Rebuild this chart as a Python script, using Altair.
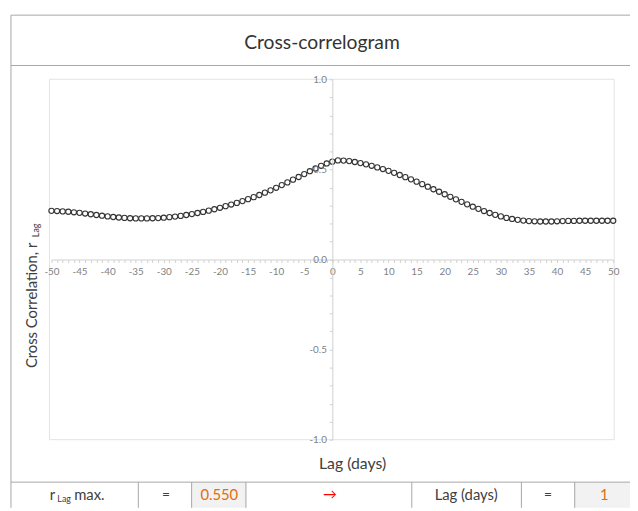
import altair as alt
import pandas as pd

# ---- data ----
lags = list(range(-50, 51))
r_values = [
    0.270, 0.269, 0.267, 0.265, 0.262, 0.259, 0.255, 0.251, 0.247, 0.243,
    0.239, 0.236, 0.233, 0.231, 0.229, 0.228, 0.228, 0.228, 0.229, 0.230,
    0.232, 0.235, 0.238, 0.242, 0.247, 0.252, 0.258, 0.264, 0.271, 0.279,
    0.287, 0.296, 0.305, 0.314, 0.324, 0.335, 0.346, 0.358, 0.371, 0.384,
    0.398, 0.413, 0.428, 0.443, 0.458, 0.474, 0.490, 0.505, 0.520, 0.533,
    0.543, 0.550, 0.549, 0.546, 0.541, 0.535, 0.528, 0.520, 0.511, 0.502,
    0.492, 0.481, 0.469, 0.457, 0.445, 0.432, 0.418, 0.404, 0.390, 0.376,
    0.362, 0.348, 0.334, 0.320, 0.306, 0.293, 0.281, 0.269, 0.258, 0.248,
    0.239, 0.231, 0.225, 0.220, 0.216, 0.213, 0.212, 0.211, 0.211, 0.211,
    0.212, 0.213, 0.214, 0.214, 0.215, 0.215, 0.215, 0.215, 0.215, 0.215,
    0.215,
]
x_ticks = list(range(-50, 51))
y_ticks = [-1.0, -0.9, -0.8, -0.7, -0.6, -0.5, -0.4, -0.3, -0.2, -0.1, 0.0,
           0.1, 0.2, 0.3, 0.4, 0.5, 0.6, 0.7, 0.8, 0.9, 1.0]

title_text = "Cross-correlogram"
x_title = "Lag (days)"
y_title = "Cross Correlation, r"
sub_text = "Lag"
r_max_text = "0.550"
lag_max_text = "1"

df = pd.DataFrame({"lag": lags, "r": r_values})

FONT = "Lato"
W, H = 630, 503
FRAME = "#a6a6a6"
TXT = "#404040"
one = alt.Data(values=[{}])

x_label_expr = ("datum.value % 5 == 0 ? (datum.value < 0 ? '-' + format(abs(datum.value), 'd')"
                " : format(datum.value, 'd')) : ''")
y_label_expr = ("abs(datum.value*2 - round(datum.value*2)) < 0.001 ? "
                "(datum.value < -0.001 ? '-' + format(abs(datum.value), '.1f') "
                ": format(abs(datum.value), '.1f')) : ''")

points = alt.Chart(df).mark_point(
    shape="circle", filled=False, size=28, color="#333333", strokeWidth=1.1, opacity=1
).encode(
    x=alt.X("lag:Q",
            scale=alt.Scale(domain=[-50, 50], range=[44, 613], nice=False, zero=False),
            axis=alt.Axis(title=None, values=x_ticks, offset=-251.5, zindex=1,
                          labelExpr=x_label_expr,
                          labelOverlap=False, labelFlush=False, grid=False,
                          domainColor="#d0d0d0", tickColor="#d0d0d0", tickSize=3,
                          labelColor="#7f7f7f", labelFont=FONT, labelFontSize=10,
                          labelPadding=4)),
    y=alt.Y("r:Q",
            scale=alt.Scale(domain=[-1, 1], range=[434, 69], nice=False, zero=False),
            axis=alt.Axis(title=None, values=y_ticks, offset=-328.5, zindex=1,
                          labelExpr=y_label_expr,
                          labelOverlap=False, labelFlush=False, grid=False,
                          domainColor="#d0d0d0", tickColor="#d0d0d0", tickSize=3,
                          labelColor="#7f7f7f", labelFont=FONT, labelFontSize=10,
                          labelPadding=3)),
)


def rule(x, y, x2=None, y2=None, color=FRAME, width=1.0):
    enc = dict(x=alt.value(x), y=alt.value(y))
    if x2 is not None:
        enc["x2"] = alt.value(x2)
    if y2 is not None:
        enc["y2"] = alt.value(y2)
    return alt.Chart(one).mark_rule(color=color, strokeWidth=width).encode(**enc)


def rect(x, x2, y, y2, fill, stroke=None):
    kw = dict(fill=fill)
    if stroke is not None:
        kw.update(stroke=stroke, strokeWidth=1)
    return alt.Chart(one).mark_rect(**kw).encode(
        x=alt.value(x), x2=alt.value(x2), y=alt.value(y), y2=alt.value(y2))


def text(s, x, y, size=12, color=TXT, align="center", angle=0, baseline="middle"):
    kw = dict(font=FONT, fontSize=size, color=color, align=align, baseline=baseline)
    if angle:
        kw["angle"] = angle
    return alt.Chart(one).mark_text(**kw).encode(
        x=alt.value(x), y=alt.value(y), text=alt.value(s))


layers = [
    rect(42, 614, 69, 434, "transparent", stroke="#e3e3e3"),
    rect(186, 241, 477, H, "#f2f2f2"),
    rect(574, W, 477, H, "#f2f2f2"),
    # outer frame
    rule(3, 4, y2=H),
    rule(3, 4, x2=W),
    rule(3, 55, x2=W),
    rule(3, 477, x2=W),
    rule(132, 477, y2=H),
    rule(186, 477, y2=H),
    rule(241, 477, y2=H),
    rule(409, 477, y2=H),
    rule(520, 477, y2=H),
    rule(574, 477, y2=H),
    points,
    text(title_text, 318, 32, size=19.5, color="#333333"),
    text(x_title, 349, 459, size=16),
    text(y_title, 24, 298, size=15, angle=270),
    text(sub_text, 28, 222, size=9, angle=270),
    # bottom table
    text("r", 45, 490, size=15),
    text(sub_text, 50, 494, size=9, align="left"),
    text("max.", 67, 490, size=15, align="left"),
    text("=", 160, 490, size=14),
    text(r_max_text, 214, 490, size=15, color="#e46c0a"),
    text("\u2192", 326, 490, size=14, color="#ff0000"),
    text(x_title, 464, 490, size=15),
    text("=", 547, 490, size=14),
    text(lag_max_text, 604, 490, size=15, color="#e46c0a"),
]

chart = alt.layer(*layers).properties(
    width=W, height=H, padding=0,
    autosize=alt.AutoSizeParams(type="none"),
    background="white",
).configure_view(strokeWidth=0)

chart.save("out.html", embed_options={"renderer": "svg", "actions": False})
